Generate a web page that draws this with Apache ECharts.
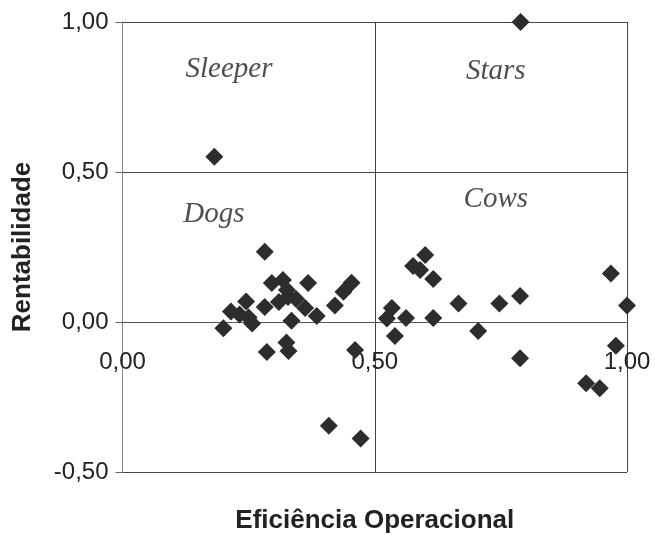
<!DOCTYPE html>
<html>
<head>
<meta charset="utf-8">
<script src="https://cdn.jsdelivr.net/npm/echarts@6/dist/echarts.min.js"></script>
<style>
html,body{margin:0;padding:0;background:#fff;}
#chart{width:655px;height:536px;}
</style>
</head>
<body>
<div id="chart"></div>
<script>
// Eficiência Operacional (x) values
const xValues = [
  0.182, 0.200, 0.215, 0.232, 0.245, 0.250, 0.257, 0.282, 0.282, 0.286,
  0.296, 0.318, 0.326, 0.310, 0.328, 0.344, 0.362, 0.385, 0.335, 0.368,
  0.325, 0.329, 0.421, 0.438, 0.454, 0.461, 0.409, 0.472,
  0.534, 0.524, 0.540, 0.562, 0.576, 0.590, 0.600, 0.616, 0.616, 0.666,
  0.705, 0.747, 0.788, 0.788, 0.789, 0.968, 1.000, 1.002, 0.978, 0.919, 0.946
];
// Rentabilidade (y) values
const yValues = [
  0.551, -0.021, 0.035, 0.025, 0.068, 0.015, -0.005, 0.234, 0.050, -0.100,
  0.130, 0.140, 0.107, 0.067, 0.083, 0.077, 0.047, 0.020, 0.004, 0.130,
  -0.068, -0.097, 0.055, 0.101, 0.131, -0.093, -0.346, -0.388,
  0.047, 0.012, -0.047, 0.013, 0.187, 0.173, 0.223, 0.143, 0.013, 0.062,
  -0.030, 0.062, 0.087, -0.121, 1.000, 0.162, 0.055, 0.043, -0.079, -0.204, -0.221
];
// Quadrant labels and their anchor positions (data coordinates)
const quadrantNames = ['Sleeper', 'Stars', 'Dogs', 'Cows'];
const quadrantX = [0.211, 0.740, 0.181, 0.740];
const quadrantY = [0.842, 0.835, 0.358, 0.408];
// Axis ticks
const xTicks = [0, 0.5, 1.0];
const yTicks = [-0.5, 0, 0.5, 1.0];

const points = xValues.map((x, i) => [x, yValues[i]]);
const labelPts = quadrantNames.map((n, i) => ({ name: n, value: [quadrantX[i], quadrantY[i]] }));
const fmt = v => v.toFixed(2).replace('.', ',');

const chart = echarts.init(document.getElementById('chart'), null, { renderer: 'canvas' });
chart.setOption({
  animation: false,
  backgroundColor: '#ffffff',
  grid: { left: 122.5, right: 28, top: 22, bottom: 64, containLabel: false, outerBoundsMode: 'none' },
  xAxis: {
    type: 'value',
    position: 'bottom',
    offset: -150,
    min: xTicks[0], max: xTicks[xTicks.length - 1], interval: 0.5,
    name: 'Eficiência Operacional',
    nameLocation: 'middle',
    nameGap: 186,
    nameTextStyle: { fontFamily: 'Liberation Sans', fontWeight: 'bold', fontSize: 26, color: '#222' },
    axisLine: { onZero: false, lineStyle: { color: '#555', width: 1 } },
    axisTick: { show: false },
    axisLabel: { formatter: fmt, margin: 28, fontFamily: 'Liberation Sans', fontSize: 24, color: '#222' },
    splitLine: { show: true, lineStyle: { color: '#444', width: 1 } }
  },
  yAxis: {
    type: 'value',
    min: yTicks[0], max: yTicks[yTicks.length - 1], interval: 0.5,
    name: 'Rentabilidade',
    nameLocation: 'middle',
    nameGap: 87,
    nameTextStyle: { fontFamily: 'Liberation Sans', fontWeight: 'bold', fontSize: 26, color: '#222' },
    axisLine: { show: true, onZero: false, lineStyle: { color: '#888', width: 1 } },
    axisTick: { show: true, length: 7, lineStyle: { color: '#666' } },
    axisLabel: { formatter: fmt, margin: 14, fontFamily: 'Liberation Sans', fontSize: 24, color: '#222' },
    splitLine: { show: true, lineStyle: { color: '#444', width: 1 } }
  },
  series: [
    {
      type: 'scatter',
      data: points,
      symbol: 'diamond',
      symbolSize: 18,
      itemStyle: { color: '#2d2d2d', opacity: 1 },
      z: 5
    },
    {
      type: 'scatter',
      data: labelPts,
      symbolSize: 0,
      silent: true,
      label: {
        show: true,
        position: 'inside',
        formatter: p => p.name,
        fontFamily: 'Liberation Serif',
        fontStyle: 'italic',
        fontSize: 29,
        color: '#222'
      },
      z: 4
    }
  ]
});
</script>
</body>
</html>
